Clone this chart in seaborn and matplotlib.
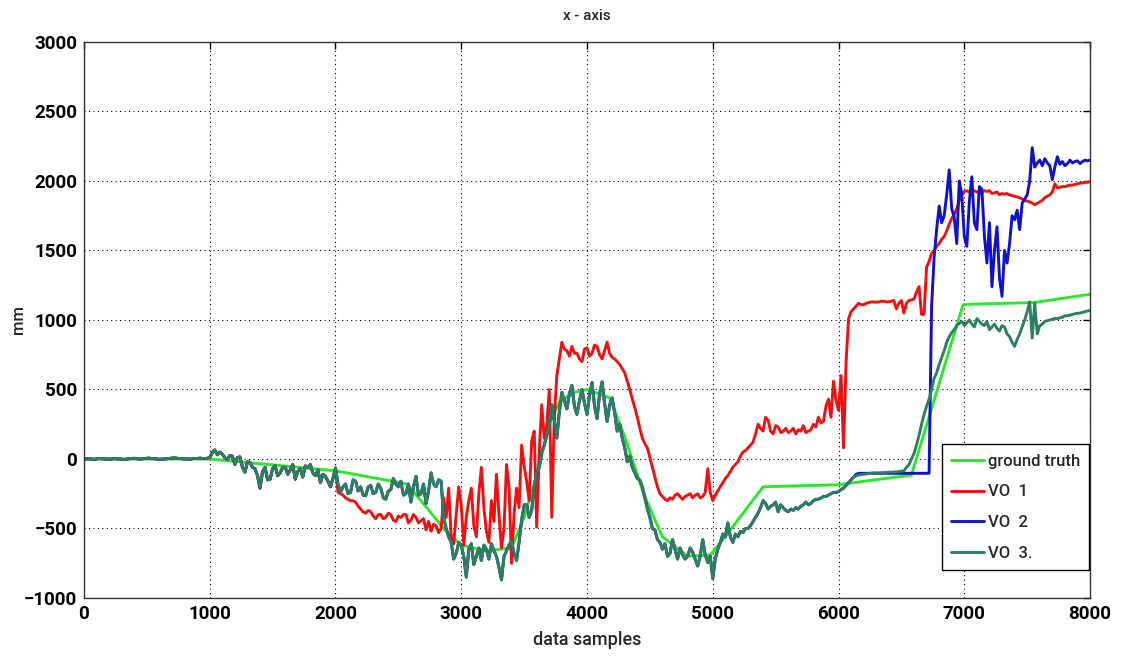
import numpy as np
import pandas as pd
import matplotlib
matplotlib.use("Agg")
import matplotlib.pyplot as plt
import seaborn as sns

# ---------------------------------------------------------------- data
sample_step = 20

# common start shared by the three VO estimates (samples 0 .. 2000)
vo_start = [
    0, 1, 2, -1, -3, 0, 4, 2, 1, -1,                     # 0-180
    -2, 0, 3, 1, 0, -2, -4, -1, 2, 3,                    # 200-380
    5, 2, -1, 1, 3, 5, 6, 3, 2, 0,                       # 400-580
    -3, -1, 0, 2, 4, 6, 8, 5, 3, 2,                      # 600-780
    1, 0, -2, 1, 4, 3, 6, 4, 2, 5,                       # 800-980
    10, 45, 65, 30, 50, 35, 10, -5, 25, 20,              # 1000-1180
    -40, 10, 15, -60, -95, -20, -25, -60, -70, -120,     # 1200-1380
    -210, -90, -60, -150, -145, -70, -50, -120, -100, -60,  # 1400-1580
    -60, -110, -80, -40, -145, -90, -70, -130, -50, -60,    # 1600-1780
    -40, -100, -120, -80, -170, -110, -125, -160, -200, -140,  # 1800-1980
    -65,                                                 # 2000
]

# VO 2 / VO 3 between samples 2020 .. 6120
vo23_mid = [
    -180, -240, -200, -180, -250, -240, -150, -160, -230, -200,   # 2020-2200
    -260, -265, -200, -190, -250, -240, -180, -210, -280, -290,   # 2220-2400
    -230, -220, -140, -180, -200, -160, -260, -250, -180, -310,   # 2420-2600
    -200, -125, -260, -250, -180, -320, -230, -100, -180, -200,   # 2620-2800
    -150, -160, -420, -500, -560, -600, -720, -680, -600, -620,   # 2820-3000
    -700, -850, -650, -610, -760, -700, -640, -730, -620, -650,   # 3020-3200
    -720, -610, -660, -700, -780, -870, -700, -660, -620, -590,   # 3220-3400
    -680, -730, -600, -440, -330, -330, -420, -370, -200, -90,    # 3420-3600
    -60, 50, 100, 170, 250, 390, 280, 150, 340, 480,              # 3620-3800
    420, 360, 470, 530, 380, 320, 420, 500, 400, 320,             # 3820-4000
    460, 550, 380, 290, 470, 555, 400, 270, 390, 440,             # 4020-4200
    330, 200, 250, 150, 80, -20, 20, -60, -100, -140,             # 4220-4400
    -150, -200, -280, -360, -420, -500, -510, -580, -600, -650,   # 4420-4600
    -610, -700, -680, -580, -650, -720, -640, -690, -720, -700,   # 4620-4800
    -640, -670, -720, -770, -700, -580, -690, -745, -700, -860,   # 4820-5000
    -720, -650, -600, -540, -560, -460, -560, -600, -540, -560,   # 5020-5200
    -520, -530, -500, -500, -480, -450, -420, -390, -350, -300,   # 5220-5400
    -320, -360, -340, -330, -310, -380, -330, -350, -370, -380,   # 5420-5600
    -360, -370, -350, -360, -340, -330, -310, -330, -320, -300,   # 5620-5800
    -290, -290, -280, -270, -270, -260, -250, -240, -240, -235,   # 5820-6000
    -220, -210, -190, -170, -150, -130,                           # 6020-6120
]

# VO 3 between samples 6140 .. 8000
vo3_end = [
    -120, -115, -112, -110, -108, -105, -102, -100, -100, -100,   # 6140-6320
    -98, -98, -96, -95, -95, -94, -92, -90, -88, -85,             # 6340-6520
    -60, -40, 0, 40, 100, 170, 250, 320, 380, 430,                # 6540-6720
    500, 580, 620, 680, 730, 780, 840, 880, 910, 930,             # 6740-6920
    960, 975, 990, 960, 980, 1000, 970, 950, 1010, 990,           # 6940-7120
    970, 960, 990, 930, 950, 970, 940, 920, 960, 950,             # 7140-7320
    900, 880, 840, 810, 860, 900, 950, 1000, 1060, 1130,          # 7340-7520
    870, 1120, 900, 960, 970, 990, 995, 1000, 1005, 1010,         # 7540-7720
    1010, 1015, 1020, 1030, 1030, 1035, 1040, 1045, 1048, 1050,   # 7740-7920
    1055, 1060, 1065, 1068,                                       # 7940-8000
]

# VO 2 between samples 6140 .. 8000
vo2_end = [
    -110, -103, -103, -103, -103, -103, -103, -103, -103, -103,   # 6140-6320
    -103, -103, -103, -103, -103, -103, -103, -103, -103, -103,   # 6340-6520
    -103, -103, -103, -103, -103, -103, -103, -103, -103, -103,   # 6540-6720
    1100, 1450, 1650, 1820, 1700, 1750, 1900, 2080, 1800, 1740,   # 6740-6920
    1550, 2000, 1900, 1600, 1530, 1850, 2030, 1700, 1650, 1960,   # 6940-7120
    1940, 1600, 1410, 1700, 1240, 1500, 1670, 1300, 1170, 1500,   # 7140-7320
    1410, 1550, 1750, 1720, 1790, 1650, 1840, 1870, 1900, 2000,   # 7340-7520
    2240, 2100, 2130, 2150, 2110, 2160, 2130, 2110, 2010, 2100,   # 7540-7720
    2175, 2120, 2140, 2110, 2125, 2150, 2130, 2140, 2145, 2125,   # 7740-7920
    2140, 2150, 2145, 2150,                                       # 7940-8000
]

# VO 1 between samples 2020 .. 8000
vo1_rest = [
    -240, -250, -260, -280, -290, -300, -300, -310, -340, -360,   # 2020-2200
    -380, -390, -370, -380, -410, -430, -400, -400, -430, -420,   # 2220-2400
    -390, -400, -440, -450, -410, -420, -400, -400, -460, -440,   # 2420-2600
    -400, -420, -460, -445, -430, -510, -450, -520, -470, -480,   # 2620-2800
    -530, -500, -280, -420, -210, -560, -610, -400, -200, -330,   # 2820-3000
    -620, -420, -300, -210, -480, -560, -250, -60, -350, -520,    # 3020-3200
    -600, -300, -450, -110, -400, -640, -500, -40, -200, -750,    # 3220-3400
    -400, -210, -350, 100, -50, -160, -300, 130, 200, -490,       # 3420-3600
    50, 390, 150, 240, 500, -420, 300, 600, 720, 840,             # 3620-3800
    790, 780, 740, 810, 760, 760, 720, 700, 790, 800,             # 3820-4000
    740, 760, 820, 810, 750, 720, 780, 840, 760, 730,             # 4020-4200
    720, 700, 680, 650, 620, 560, 500, 430, 370, 300,             # 4220-4400
    220, 150, 110, 80, 10, -60, -130, -200, -250, -270,           # 4420-4600
    -290, -300, -280, -290, -260, -250, -270, -290, -270, -260,   # 4620-4800
    -250, -280, -260, -250, -280, -270, -240, -70, -240, -300,    # 4820-5000
    -260, -230, -200, -170, -140, -120, -90, -60, -40, -20,       # 5020-5200
    20, 50, 60, 80, 100, 120, 180, 250, 220, 200,                 # 5220-5400
    300, 280, 200, 180, 240, 230, 190, 200, 220, 190,             # 5420-5600
    200, 220, 180, 210, 200, 240, 190, 200, 210, 250,             # 5620-5800
    230, 300, 260, 270, 380, 430, 300, 560, 420, 350,             # 5820-6000
    600, 80, 700, 1010, 1060, 1080, 1100, 1120, 1110, 1110,       # 6020-6200
    1120, 1125, 1130, 1130, 1128, 1130, 1135, 1135, 1130, 1130,   # 6220-6400
    1135, 1140, 1080, 1120, 1140, 1050, 1120, 1140, 1145, 1150,   # 6420-6600
    1200, 1240, 1040, 1040, 1380, 1420, 1480, 1500, 1530, 1550,   # 6620-6800
    1580, 1600, 1640, 1690, 1730, 1760, 1800, 1860, 1900, 1925,   # 6820-7000
    1930, 1920, 1925, 1930, 1920, 1925, 1915, 1930, 1925, 1930,   # 7020-7200
    1910, 1915, 1920, 1900, 1910, 1905, 1910, 1900, 1895, 1890,   # 7220-7400
    1885, 1880, 1870, 1860, 1855, 1850, 1840, 1830, 1840, 1850,   # 7420-7600
    1860, 1880, 1890, 1900, 1920, 1980, 1950, 1955, 1960, 1960,   # 7620-7800
    1965, 1970, 1970, 1975, 1980, 1985, 1985, 1990, 1990, 1995,   # 7820-8000
]

# ground truth trajectory (breakpoints)
gt_x = [0, 1000, 2000, 2570, 2870, 3000, 3200, 3400, 3500, 3600, 3700,
        3780, 3900, 4000, 4180, 4300, 4450, 4600, 4800, 4980, 5090, 5400,
        6000, 6580, 6990, 7100, 7550, 8000]
gt_y = [0, 0, -85, -180, -510, -620, -660, -640, -420, -120, 250,
        410, 480, 500, 440, 160, -250, -560, -700, -690, -570, -200,
        -185, -115, 1110, 1115, 1125, 1185]

vo1_y = vo_start + vo1_rest
vo2_y = vo_start + vo23_mid + vo2_end
vo3_y = vo_start + vo23_mid + vo3_end
n_samples = 8000 // sample_step + 1
for name, ys in (("VO1", vo1_y), ("VO2", vo2_y), ("VO3", vo3_y)):
    if len(ys) != n_samples:
        raise ValueError(f"{name}: {len(ys)} values, expected {n_samples}")
samples = np.arange(n_samples) * sample_step

frames = [pd.DataFrame({"sample": gt_x, "mm": gt_y, "series": "ground truth"})]
for label, ys in (("VO  1", vo1_y), ("VO  2", vo2_y), ("VO  3.", vo3_y)):
    frames.append(pd.DataFrame({"sample": samples, "mm": ys, "series": label}))
df = pd.concat(frames, ignore_index=True)

palette = {
    "ground truth": "#2ee62e",
    "VO  1": "#ee1111",
    "VO  2": "#1111cc",
    "VO  3.": "#2d7f5e",
}

# ---------------------------------------------------------------- style
sns.set_theme(style="white")
plt.rcParams["font.family"] = ["Roboto", "DejaVu Sans"]
plt.rcParams["font.weight"] = "bold"

fig = plt.figure(figsize=(11.21, 6.58), dpi=100)
ax = fig.add_axes([0.0749, 0.0912, 0.8975, 0.8450])

for label in palette:
    sub = df[df["series"] == label]
    sns.lineplot(data=sub, x="sample", y="mm", ax=ax, color=palette[label],
                 linewidth=2.1, estimator=None, sort=False, label=label)

ax.set_xlim(0, 8000)
ax.set_ylim(-1000, 3000)
ax.set_xticks(range(0, 8001, 1000))
ax.set_yticks(range(-1000, 3001, 500))
ax.grid(True, color="black", linestyle=(0, (1, 3)), linewidth=0.8)
ax.tick_params(direction="in", length=5, width=1, top=True, right=True,
               labelsize=13.5, pad=5, colors="black")
for sp in ax.spines.values():
    sp.set_color("#333333")
    sp.set_linewidth(1.0)

ax.set_title("x - axis", fontsize=11, pad=16, fontweight="medium")
ax.set_xlabel("data samples", fontsize=13, labelpad=6, fontweight="medium")
ax.set_ylabel("mm", fontsize=12, fontweight="medium")
ax.yaxis.set_label_coords(-0.058, 0.5)

leg = ax.legend(loc="lower right", bbox_to_anchor=(0.999, 0.05),
                borderaxespad=0, frameon=True, fancybox=False, framealpha=1,
                edgecolor="black", handlelength=2.0, handletextpad=0.2,
                labelspacing=0.95, borderpad=0.55,
                prop={"size": 12, "weight": "medium"})
leg.get_frame().set_linewidth(1.0)

fig.savefig("out.png", dpi=100)
